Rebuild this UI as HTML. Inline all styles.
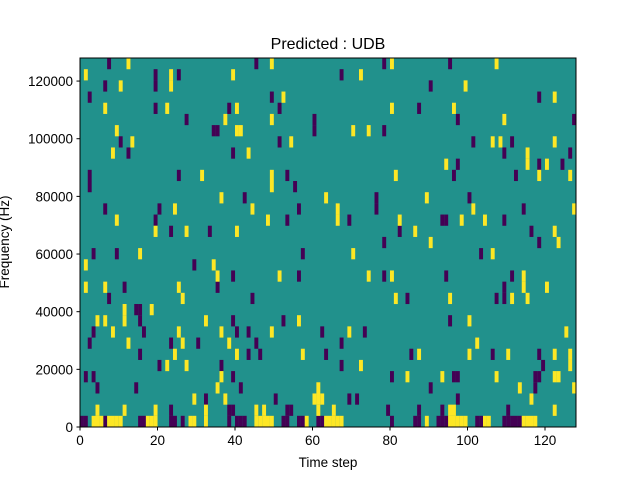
<!DOCTYPE html>
<html><head><meta charset="utf-8"><style>
body{margin:0;background:#fff;}
svg text{font-family:"Liberation Sans","DejaVu Sans",sans-serif;}
</style></head><body>
<svg id="chart" width="640" height="480" xmlns="http://www.w3.org/2000/svg">
<rect width="640" height="480" fill="#fff"/>
<g id="cells"></g>
<g id="axes"></g>
<text x="328" y="49" text-anchor="middle" font-size="16" fill="#000">Predicted : UDB</text>
<text x="328" y="467" text-anchor="middle" font-size="13.5" fill="#000">Time step</text>
<text x="9" y="242" text-anchor="middle" font-size="13.5" fill="#000" transform="rotate(-90 9 242)">Frequency (Hz)</text>
</svg>
<script>
const nSteps = 128;
const nBins = 33;
const maxFreq = 128000;
const xTicks = [0, 20, 40, 60, 80, 100, 120];
const yTicks = [0, 20000, 40000, 60000, 80000, 100000, 120000];
// [timeStep, freqBin] for low-valued (purple) cells
const lowCells = [
[7,32],[19,31],[19,30],[25,31],[6,30],[2,29],[19,28],[27,27],[10,25],[12,24],[2,22],[2,21],[25,22],[6,19],[20,19],[19,18],[23,17],[3,15],[9,15],[29,14],[11,12],[7,11],[14,10],[15,10],[15,9],[3,8],[16,8],[2,7],[23,7],[30,7],[15,6],[20,5],[1,4],[3,4],[4,3],[14,3],[23,1],[0,0],[1,0],[6,0],[15,0],[16,0],[23,0],[24,0],[26,0],
[45,32],[49,29],[38,28],[51,28],[60,27],[60,26],[34,26],[35,26],[51,25],[39,24],[53,22],[55,21],[42,20],[56,19],[53,18],[33,17],[57,15],[39,13],[56,13],[35,12],[44,11],[39,9],[52,9],[40,8],[43,8],[62,8],[45,7],[43,6],[46,6],[63,6],[36,5],[39,4],[41,3],[32,2],[50,2],[38,1],[39,1],[53,1],[54,1],[38,0],[40,0],[41,0],[42,0],[52,0],[53,0],[56,0],[57,0],[61,0],[62,0],
[78,32],[95,32],[67,31],[90,30],[87,28],[78,26],[76,20],[76,19],[69,18],[93,18],[94,18],[82,17],[78,16],[78,13],[94,13],[84,11],[95,9],[73,8],[67,7],[85,6],[67,5],[80,4],[90,3],[69,2],[71,2],[79,1],[87,1],[93,1],[80,0],[86,0],[87,0],[92,0],[93,0],[94,0],
[118,29],[97,27],[127,27],[101,25],[111,25],[109,24],[126,24],[97,23],[118,23],[124,23],[96,22],[112,22],[100,20],[114,19],[109,18],[116,17],[118,16],[103,15],[111,13],[109,12],[109,11],[107,11],[106,6],[118,6],[119,5],[96,4],[97,4],[117,4],[118,4],[117,3],[97,2],[110,1],[102,0],[103,0],[109,0],[110,0],[111,0],[112,0],[113,0]
];
// [timeStep, freqBin] for high-valued (yellow) cells
const highCells = [
[12,32],[1,31],[23,31],[23,30],[10,30],[6,28],[22,28],[9,26],[13,25],[8,24],[31,22],[24,19],[9,18],[19,17],[27,17],[15,15],[1,14],[1,12],[6,12],[25,12],[26,11],[11,10],[11,9],[18,10],[4,9],[6,9],[8,8],[25,8],[12,7],[26,7],[24,6],[22,5],[27,5],[29,2],[4,1],[11,1],[19,1],[3,0],[4,0],[5,0],[7,0],[8,0],[9,0],[10,0],[17,0],[18,0],[19,0],[28,0],[29,0],
[49,32],[39,31],[52,29],[40,28],[37,27],[49,27],[40,26],[41,26],[54,25],[43,24],[49,22],[49,21],[36,20],[63,20],[44,19],[48,18],[40,17],[34,14],[35,13],[51,13],[32,9],[56,9],[36,8],[49,8],[38,7],[40,6],[57,6],[36,4],[35,3],[61,3],[37,2],[60,2],[61,2],[62,2],[32,1],[45,1],[47,1],[61,1],[32,0],[45,0],[46,0],[47,0],[48,0],[49,0],[58,0],[63,0],
[80,32],[72,31],[80,28],[70,26],[74,26],[94,23],[81,22],[89,20],[66,19],[66,18],[82,18],[86,17],[90,16],[70,15],[74,13],[80,13],[81,11],[95,11],[69,8],[87,6],[72,5],[84,4],[93,4],[65,1],[95,1],[64,0],[65,0],[66,0],[67,0],[89,0],[95,0],
[107,32],[99,30],[122,29],[96,28],[109,27],[106,25],[108,25],[122,25],[115,24],[115,23],[120,23],[118,22],[126,22],[101,19],[127,19],[98,18],[104,18],[122,17],[123,16],[106,15],[114,13],[114,12],[120,12],[111,11],[115,11],[100,9],[125,8],[102,7],[100,6],[110,6],[122,6],[126,6],[126,5],[107,4],[122,4],[123,4],[113,3],[127,3],[116,2],[96,1],[122,1],[96,0],[97,0],[98,0],[99,0],[104,0],[105,0],[114,0],[115,0],[116,0],[117,0]
];

const NS = 'http://www.w3.org/2000/svg';
const L = 80, R = 576, T = 58, B = 427;
const xScale = t => L + t / nSteps * (R - L);
const binY = b => B - b / nBins * (B - T);
const fY = f => B - f / maxFreq * (B - T);
const cw = (R - L) / nSteps, ch = (B - T) / nBins;
const cells = document.getElementById('cells');
const bg = document.createElementNS(NS, 'rect');
bg.setAttribute('x', L); bg.setAttribute('y', T);
bg.setAttribute('width', R - L); bg.setAttribute('height', B - T);
bg.setAttribute('fill', '#21918c');


cells.appendChild(bg);
function drawCells(list, color, name) {
  list.forEach(([t, b]) => {
    const r = document.createElementNS(NS, 'rect');
    r.setAttribute('x', xScale(t));
    r.setAttribute('y', binY(b + 1));
    r.setAttribute('width', cw + 0.05);
    r.setAttribute('height', ch + 0.05);
    r.setAttribute('fill', color);
    
    
    cells.appendChild(r);
  });
}
drawCells(lowCells, '#440154', 'heatmap-cell-low');
drawCells(highCells, '#fde725', 'heatmap-cell-high');

const axes = document.getElementById('axes');
const frame = document.createElementNS(NS, 'rect');
frame.setAttribute('x', L); frame.setAttribute('y', T);
frame.setAttribute('width', R - L); frame.setAttribute('height', B - T);
frame.setAttribute('fill', 'none'); frame.setAttribute('stroke', '#000'); frame.setAttribute('stroke-width', '1');


axes.appendChild(frame);
xTicks.forEach(v => {
  const x = xScale(v);
  const ln = document.createElementNS(NS, 'line');
  ln.setAttribute('x1', x); ln.setAttribute('x2', x); ln.setAttribute('y1', B); ln.setAttribute('y2', B + 3.5);
  ln.setAttribute('stroke', '#000');
  
  
  axes.appendChild(ln);
  const tx = document.createElementNS(NS, 'text');
  tx.setAttribute('x', x); tx.setAttribute('y', B + 18); tx.setAttribute('text-anchor', 'middle'); tx.setAttribute('font-size', '13.5');
  tx.textContent = v;
  
  
  axes.appendChild(tx);
});
yTicks.forEach(v => {
  const y = fY(v);
  const ln = document.createElementNS(NS, 'line');
  ln.setAttribute('x1', L - 3.5); ln.setAttribute('x2', L); ln.setAttribute('y1', y); ln.setAttribute('y2', y);
  ln.setAttribute('stroke', '#000');
  
  
  axes.appendChild(ln);
  const tx = document.createElementNS(NS, 'text');
  tx.setAttribute('x', L - 7); tx.setAttribute('y', y + 5); tx.setAttribute('text-anchor', 'end'); tx.setAttribute('font-size', '13.5');
  tx.textContent = v;
  
  
  axes.appendChild(tx);
});
</script>
</body></html>
